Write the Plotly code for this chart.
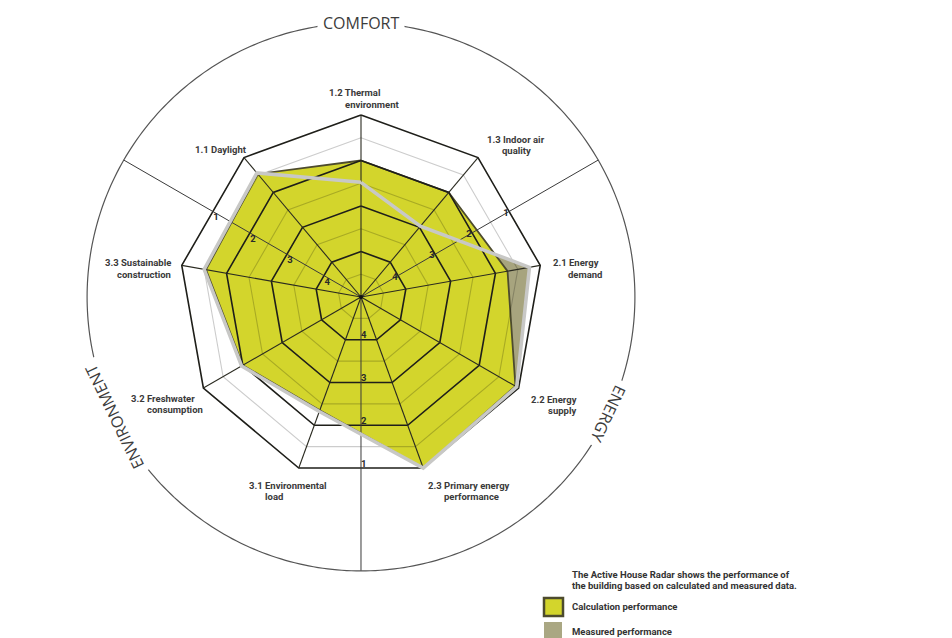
import numpy as np
import plotly.graph_objects as go

# ---------------- data ----------------
axis_label_lines = [
    ["1.2 Thermal", "environment"],
    ["1.3 Indoor air", "quality"],
    ["2.1 Energy", "demand"],
    ["2.2 Energy", "supply"],
    ["2.3 Primary energy", "performance"],
    ["3.1 Environmental", "load"],
    ["3.2 Freshwater", "consumption"],
    ["3.3 Sustainable", "construction"],
    ["1.1 Daylight"],
]
# scores on the Active House scale (1 = outer ring, best)
calculation_scores = [2.0, 2.0, 1.73, 1.08, 1.0, 2.35, 2.0, 1.54, 1.47]
measured_scores = [2.48, 2.97, 1.24, 1.05, 1.0, 2.32, 1.97, 1.5, 1.44]
scale_ticks = [1, 2, 3, 4]
group_names = ["COMFORT", "ENERGY", "ENVIRONMENT"]
legend_names = ["Calculation performance", "Measured performance"]
note_lines = ["The Active House Radar shows the performance of",
              "the building based on calculated and measured data."]

# ---------------- styling / layout constants ----------------
W, H = 952, 638
OFF = 8                    # page body margin
CX, CY = 361 - OFF, 297 - OFF   # polar centre in figure pixels
PXU = 45.5                 # pixels per radial unit
RMAX = 6.1
CIRCLE_R = 6.02
SCORE_ORIGIN = 5           # score at the centre
YELLOW = "#d3d52c"
OLIVE = "#a7a47e"
DARK_EDGE = "#4d4b2e"
FONT = "Roboto"

n = len(axis_label_lines)
theta_axes = [90 - 40 * i for i in range(n)]
theta_closed = theta_axes + [theta_axes[0]]


def to_r(scores):
    return [SCORE_ORIGIN - s for s in scores]


def closed(v):
    return list(v) + [v[0]]


fig = go.Figure()

# measured fill (bottom)
fig.add_trace(go.Scatterpolar(r=closed(to_r(measured_scores)), theta=theta_closed,
                              mode="lines", fill="toself", fillcolor=OLIVE,
                              line=dict(width=0, color=OLIVE), hoverinfo="skip"))
# calculation fill
fig.add_trace(go.Scatterpolar(r=closed(to_r(calculation_scores)), theta=theta_closed,
                              mode="lines", fill="toself", fillcolor=YELLOW,
                              line=dict(width=1.8, color=DARK_EDGE), hoverinfo="skip"))

# grey half rings
rr, tt = [], []
for t in scale_ticks:
    k = SCORE_ORIGIN - t - 0.5
    rr += [k] * (n + 1) + [None]
    tt += theta_closed + [None]
fig.add_trace(go.Scatterpolar(r=rr, theta=tt, mode="lines",
                              line=dict(width=1.1, color="rgba(0,0,0,0.2)"), hoverinfo="skip"))
# black rings
rr, tt = [], []
for t in scale_ticks:
    k = SCORE_ORIGIN - t
    rr += [k] * (n + 1) + [None]
    tt += theta_closed + [None]
fig.add_trace(go.Scatterpolar(r=rr, theta=tt, mode="lines",
                              line=dict(width=1.6, color="#1f1f1a"), hoverinfo="skip"))
# spokes
rr, tt = [], []
for th in theta_axes:
    rr += [0, SCORE_ORIGIN - min(scale_ticks), None]
    tt += [th, th, None]
fig.add_trace(go.Scatterpolar(r=rr, theta=tt, mode="lines",
                              line=dict(width=1.1, color="#2a2a20"), hoverinfo="skip"))
# group separators
sep_theta = [30, 150, 270]
rr, tt = [], []
for th in sep_theta:
    rr += [0, CIRCLE_R, None]
    tt += [th, th, None]
fig.add_trace(go.Scatterpolar(r=rr, theta=tt, mode="lines",
                              line=dict(width=1, color="#3a3a3a"), hoverinfo="skip"))
# measured outline (light grey)
fig.add_trace(go.Scatterpolar(r=closed(to_r(measured_scores)), theta=theta_closed,
                              mode="lines", line=dict(width=3.5, color="#c8c8c6"),
                              hoverinfo="skip"))
# outer circle
circ_t = list(np.linspace(0, 360, 361))
fig.add_trace(go.Scatterpolar(r=[CIRCLE_R] * len(circ_t), theta=circ_t, mode="lines",
                              line=dict(width=1.2, color="#555555"), hoverinfo="skip"))
# centre dot
fig.add_trace(go.Scatterpolar(r=[0], theta=[0], mode="markers",
                              marker=dict(size=4, color="#111"), hoverinfo="skip"))

# scale labels along separators
cos20 = np.cos(np.radians(20))
positions = {30: "middle center", 150: "bottom center", 270: "middle right"}
for th in sep_theta:
    rl = [(SCORE_ORIGIN - t) * cos20 - 0.08 for t in scale_ticks]
    fig.add_trace(go.Scatterpolar(r=rl, theta=[th] * len(rl), mode="text",
                                  text=[str(t) for t in scale_ticks],
                                  textposition=positions[th],
                                  textfont=dict(family=FONT, size=9.5, color="#2a2a2a",
                                                weight="bold"),
                                  hoverinfo="skip"))


def px(x):
    return (x - OFF) / W


def py(y):
    return 1 - (y - OFF) / H


annotations = []
# group labels on circle (positions given in page pixels)
group_theta = [90, -25.2, 205.8]
for name, th in zip(group_names, group_theta):
    x = CX + OFF + CIRCLE_R * PXU * np.cos(np.radians(th))
    y = CY + OFF - CIRCLE_R * PXU * np.sin(np.radians(th))
    annotations.append(dict(x=px(x), y=py(y), xref="paper", yref="paper", text=name,
                            showarrow=False, textangle=90 - th, bgcolor="white",
                            borderpad=5, xanchor="center", yanchor="middle",
                            font=dict(family="Open Sans", size=16, color="#3c3c3c")))

# axis labels (page-pixel positions of each line; anchor)
label_pos = [
    [(326.7, 92.7, "left"), (343.3, 104, "left")],
    [(485, 139.3, "left"), (500, 150.7, "left")],
    [(551, 262.7, "left"), (566, 274, "left")],
    [(529.3, 399, "left"), (546, 410, "left")],
    [(426, 485, "left"), (442.3, 496, "left")],
    [(246.7, 485, "left"), (262.7, 496, "left")],
    [(129.3, 398.3, "left"), (145, 409.3, "left")],
    [(173, 263, "right"), (173, 274.5, "right")],
    [(193.3, 149.3, "left")],
]
for lines, poss in zip(axis_label_lines, label_pos):
    for txt, (x, y, anc) in zip(lines, poss):
        annotations.append(dict(x=px(x), y=py(y), xref="paper", yref="paper", text=txt,
                                showarrow=False, xanchor=anc, yanchor="middle",
                                font=dict(family=FONT, size=9.5, color="#3a3a3a",
                                          weight="bold")))

# note + legend texts
for txt, y in zip(note_lines, [574, 585]):
    annotations.append(dict(x=px(570), y=py(y), xref="paper", yref="paper", text=txt,
                            showarrow=False, xanchor="left", yanchor="middle",
                            font=dict(family=FONT, size=9.5, color="#333", weight="bold")))
for txt, y in zip(legend_names, [606.5, 631.5]):
    annotations.append(dict(x=px(570), y=py(y), xref="paper", yref="paper", text=txt,
                            showarrow=False, xanchor="left", yanchor="middle",
                            font=dict(family=FONT, size=9.5, color="#333", weight="bold")))

shapes = [
    dict(type="rect", xref="paper", yref="paper", x0=px(544), x1=px(563), y0=py(616),
         y1=py(598), fillcolor=YELLOW, line=dict(color=DARK_EDGE, width=2.5)),
    dict(type="rect", xref="paper", yref="paper", x0=px(544), x1=px(562), y0=py(641),
         y1=py(622), fillcolor="#aaa783", line=dict(width=0)),
]

Rpx = RMAX * PXU
fig.update_layout(
    width=W, height=H,
    margin=dict(l=0, r=0, t=0, b=0),
    paper_bgcolor="white",
    showlegend=False,
    polar=dict(
        domain=dict(x=[(CX - Rpx) / W, (CX + Rpx) / W],
                    y=[(H - CY - Rpx) / H, (H - CY + Rpx) / H]),
        bgcolor="rgba(0,0,0,0)",
        radialaxis=dict(range=[0, RMAX], visible=False, showgrid=False, showline=False),
        angularaxis=dict(visible=False, showgrid=False, showline=False, rotation=0,
                         direction="counterclockwise"),
    ),
    annotations=annotations,
    shapes=shapes,
)

fig.write_html("out.html", config={"displayModeBar": False})
